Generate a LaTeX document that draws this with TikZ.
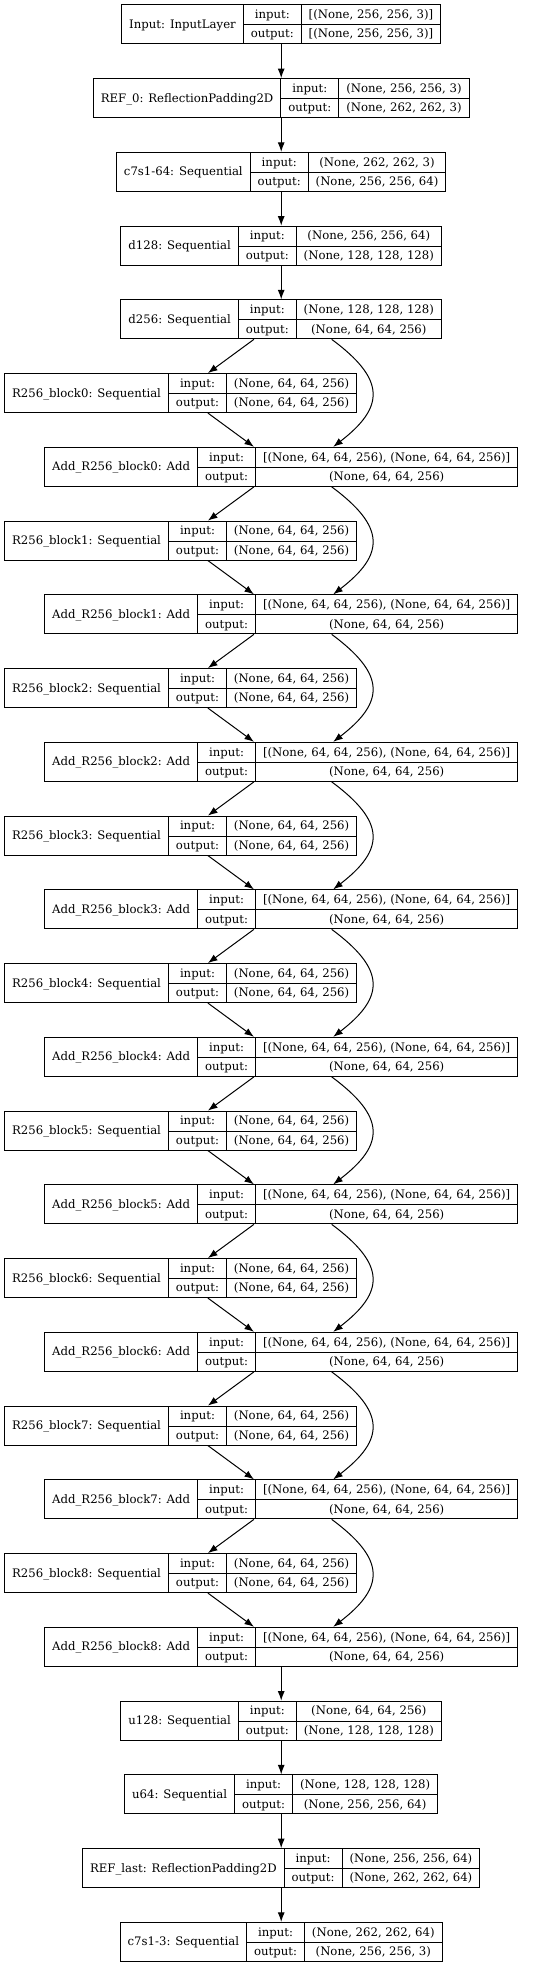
\documentclass[tikz,border=0pt]{standalone}
\usepackage{fontspec}
\setmainfont{DejaVu Serif}
\usepackage{multirow}
\usepackage{tikz}
\usetikzlibrary{arrows.meta}
\setlength{\arrayrulewidth}{1pt}
\setlength{\tabcolsep}{7.5pt}
\newcommand{\reclayer}[3]{\begin{tabular}{c|c|c}\multirow{2}{*}{#1} & input: & #2\\\cline{2-3} & output: & #3\end{tabular}}

\begin{document}
\begin{tikzpicture}[x=1pt, y=1pt, every node/.style={draw, line width=1pt, inner sep=0pt, fill=white, font=\fontsize{11.7}{19.5}\selectfont}, >={Latex[length=9.5pt,width=7pt]}]
\useasboundingbox (0,0) rectangle (545,-1967);

\node (input) at (281.2,-24.35) {\reclayer{Input: InputLayer}{[(None, 256, 256, 3)]}{[(None, 256, 256, 3)]}};
\node (ref0) at (281.2,-98.1) {\reclayer{REF\_0: ReflectionPadding2D}{(None, 256, 256, 3)}{(None, 262, 262, 3)}};
\node (c7s164) at (281.2,-171.85) {\reclayer{c7s1-64: Sequential}{(None, 262, 262, 3)}{(None, 256, 256, 64)}};
\node (d128) at (281.2,-245.6) {\reclayer{d128: Sequential}{(None, 256, 256, 64)}{(None, 128, 128, 128)}};
\node (d256) at (281.2,-319.35) {\reclayer{d256: Sequential}{(None, 128, 128, 128)}{(None, 64, 64, 256)}};

\node (r0) at (180.7,-393.1) {\reclayer{R256\_block0: Sequential}{(None, 64, 64, 256)}{(None, 64, 64, 256)}};
\node (add0) at (281.2,-466.85) {\reclayer{Add\_R256\_block0: Add}{[(None, 64, 64, 256), (None, 64, 64, 256)]}{(None, 64, 64, 256)}};
\node (r1) at (180.7,-540.6) {\reclayer{R256\_block1: Sequential}{(None, 64, 64, 256)}{(None, 64, 64, 256)}};
\node (add1) at (281.2,-614.35) {\reclayer{Add\_R256\_block1: Add}{[(None, 64, 64, 256), (None, 64, 64, 256)]}{(None, 64, 64, 256)}};
\node (r2) at (180.7,-688.1) {\reclayer{R256\_block2: Sequential}{(None, 64, 64, 256)}{(None, 64, 64, 256)}};
\node (add2) at (281.2,-761.85) {\reclayer{Add\_R256\_block2: Add}{[(None, 64, 64, 256), (None, 64, 64, 256)]}{(None, 64, 64, 256)}};
\node (r3) at (180.7,-835.6) {\reclayer{R256\_block3: Sequential}{(None, 64, 64, 256)}{(None, 64, 64, 256)}};
\node (add3) at (281.2,-909.35) {\reclayer{Add\_R256\_block3: Add}{[(None, 64, 64, 256), (None, 64, 64, 256)]}{(None, 64, 64, 256)}};
\node (r4) at (180.7,-983.1) {\reclayer{R256\_block4: Sequential}{(None, 64, 64, 256)}{(None, 64, 64, 256)}};
\node (add4) at (281.2,-1056.85) {\reclayer{Add\_R256\_block4: Add}{[(None, 64, 64, 256), (None, 64, 64, 256)]}{(None, 64, 64, 256)}};
\node (r5) at (180.7,-1130.6) {\reclayer{R256\_block5: Sequential}{(None, 64, 64, 256)}{(None, 64, 64, 256)}};
\node (add5) at (281.2,-1204.35) {\reclayer{Add\_R256\_block5: Add}{[(None, 64, 64, 256), (None, 64, 64, 256)]}{(None, 64, 64, 256)}};
\node (r6) at (180.7,-1278.1) {\reclayer{R256\_block6: Sequential}{(None, 64, 64, 256)}{(None, 64, 64, 256)}};
\node (add6) at (281.2,-1351.85) {\reclayer{Add\_R256\_block6: Add}{[(None, 64, 64, 256), (None, 64, 64, 256)]}{(None, 64, 64, 256)}};
\node (r7) at (180.7,-1425.6) {\reclayer{R256\_block7: Sequential}{(None, 64, 64, 256)}{(None, 64, 64, 256)}};
\node (add7) at (281.2,-1499.35) {\reclayer{Add\_R256\_block7: Add}{[(None, 64, 64, 256), (None, 64, 64, 256)]}{(None, 64, 64, 256)}};
\node (r8) at (180.7,-1573.1) {\reclayer{R256\_block8: Sequential}{(None, 64, 64, 256)}{(None, 64, 64, 256)}};
\node (add8) at (281.2,-1646.85) {\reclayer{Add\_R256\_block8: Add}{[(None, 64, 64, 256), (None, 64, 64, 256)]}{(None, 64, 64, 256)}};

\node (u128) at (281.2,-1720.6) {\reclayer{u128: Sequential}{(None, 64, 64, 256)}{(None, 128, 128, 128)}};
\node (u64) at (281.2,-1794.35) {\reclayer{u64: Sequential}{(None, 128, 128, 128)}{(None, 256, 256, 64)}};
\node (reflast) at (281.2,-1868.1) {\reclayer{REF\_last: ReflectionPadding2D}{(None, 256, 256, 64)}{(None, 262, 262, 64)}};
\node (c7s13) at (281.2,-1941.85) {\reclayer{c7s1-3: Sequential}{(None, 262, 262, 64)}{(None, 256, 256, 3)}};

\draw[->, line width=1pt] (input) -- (ref0);
\draw[->, line width=1pt] (ref0) -- (c7s164);
\draw[->, line width=1pt] (c7s164) -- (d128);
\draw[->, line width=1pt] (d128) -- (d256);

\draw[->, line width=1pt] (d256) -- (r0);
\draw[->, line width=1pt] ([xshift=50.5pt]d256.south) .. controls +(54,-40) and +(52,40) .. ([xshift=52pt]add0.north);
\draw[->, line width=1pt] (r0) -- (add0);
\draw[->, line width=1pt] (add0) -- (r1);
\draw[->, line width=1pt] ([xshift=50.5pt]add0.south) .. controls +(54,-40) and +(52,40) .. ([xshift=52pt]add1.north);
\draw[->, line width=1pt] (r1) -- (add1);
\draw[->, line width=1pt] (add1) -- (r2);
\draw[->, line width=1pt] ([xshift=50.5pt]add1.south) .. controls +(54,-40) and +(52,40) .. ([xshift=52pt]add2.north);
\draw[->, line width=1pt] (r2) -- (add2);
\draw[->, line width=1pt] (add2) -- (r3);
\draw[->, line width=1pt] ([xshift=50.5pt]add2.south) .. controls +(54,-40) and +(52,40) .. ([xshift=52pt]add3.north);
\draw[->, line width=1pt] (r3) -- (add3);
\draw[->, line width=1pt] (add3) -- (r4);
\draw[->, line width=1pt] ([xshift=50.5pt]add3.south) .. controls +(54,-40) and +(52,40) .. ([xshift=52pt]add4.north);
\draw[->, line width=1pt] (r4) -- (add4);
\draw[->, line width=1pt] (add4) -- (r5);
\draw[->, line width=1pt] ([xshift=50.5pt]add4.south) .. controls +(54,-40) and +(52,40) .. ([xshift=52pt]add5.north);
\draw[->, line width=1pt] (r5) -- (add5);
\draw[->, line width=1pt] (add5) -- (r6);
\draw[->, line width=1pt] ([xshift=50.5pt]add5.south) .. controls +(54,-40) and +(52,40) .. ([xshift=52pt]add6.north);
\draw[->, line width=1pt] (r6) -- (add6);
\draw[->, line width=1pt] (add6) -- (r7);
\draw[->, line width=1pt] ([xshift=50.5pt]add6.south) .. controls +(54,-40) and +(52,40) .. ([xshift=52pt]add7.north);
\draw[->, line width=1pt] (r7) -- (add7);
\draw[->, line width=1pt] (add7) -- (r8);
\draw[->, line width=1pt] ([xshift=50.5pt]add7.south) .. controls +(54,-40) and +(52,40) .. ([xshift=52pt]add8.north);
\draw[->, line width=1pt] (r8) -- (add8);

\draw[->, line width=1pt] (add8) -- (u128);
\draw[->, line width=1pt] (u128) -- (u64);
\draw[->, line width=1pt] (u64) -- (reflast);
\draw[->, line width=1pt] (reflast) -- (c7s13);
\end{tikzpicture}
\end{document}
